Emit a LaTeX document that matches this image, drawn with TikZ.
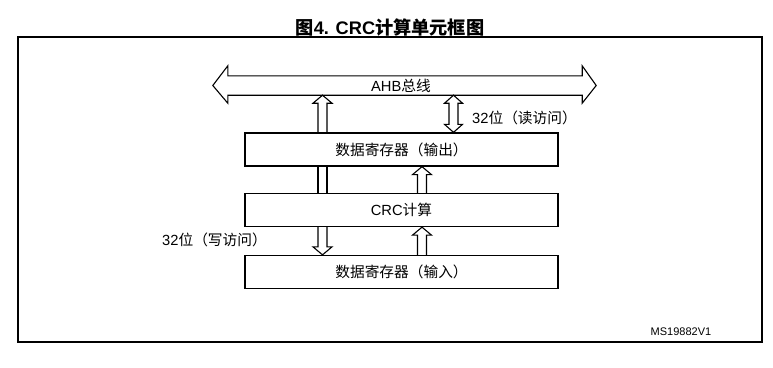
\documentclass[tikz,border=0pt]{standalone}
\usepackage{fontspec}
\setmainfont{Liberation Sans}
\newfontfamily\cjk{Noto Sans CJK SC}
\usetikzlibrary{calc}
\tikzset{
  arr/.style={line width=1.1pt, line join=miter},
  blk/.style={draw, line width=1.3pt, minimum width=313pt, minimum height=33pt, inner sep=0pt,
    font=\fontsize{14.7}{17}\selectfont},
  lbl/.style={font=\fontsize{14.7}{17}\selectfont, inner sep=0pt}
}
\newcommand\uparr[2]{%
  \draw[arr] let \p1=#1, \p2=#2 in
    (\x1-4.5pt,\y2) -- (\x1-4.5pt,\y1-8pt) -- (\x1-9.5pt,\y1-8pt) -- (\x1,\y1)
    -- (\x1+9.5pt,\y1-8pt) -- (\x1+4.5pt,\y1-8pt) -- (\x1+4.5pt,\y2);}
\newcommand\downarr[2]{%
  \draw[arr] let \p1=#1, \p2=#2 in
    (\x1-4.5pt,\y2) -- (\x1-4.5pt,\y1+8pt) -- (\x1-9.5pt,\y1+8pt) -- (\x1,\y1)
    -- (\x1+9.5pt,\y1+8pt) -- (\x1+4.5pt,\y1+8pt) -- (\x1+4.5pt,\y2);}
\newcommand\dblarr[2]{%
  \draw[arr] let \p1=#1, \p2=#2 in
    (\x1,\y1) -- (\x1+9pt,\y1-8pt) -- (\x1+4.5pt,\y1-8pt) -- (\x1+4.5pt,\y2+8pt)
    -- (\x1+9pt,\y2+8pt) -- (\x2,\y2) -- (\x1-9pt,\y2+8pt) -- (\x1-4.5pt,\y2+8pt)
    -- (\x1-4.5pt,\y1-8pt) -- (\x1-9pt,\y1-8pt) -- cycle;}
\begin{document}
\begin{tikzpicture}[x=1pt,y=-1pt]
\useasboundingbox (0,0) rectangle (773,367);
% title
\node[inner sep=0pt, font=\fontsize{18.2}{21}\selectfont\bfseries] (title) at (390,28)
  {{\cjk\bfseries 图}4. CRC{\cjk\bfseries 计算单元框图}};
% frame
\node[draw, line width=1.2pt, minimum width=744pt, minimum height=305pt, inner sep=0pt] (frame) at (390,189.5) {};
% bus
\node[lbl, minimum width=354pt, minimum height=19pt] (bus) at (405,85.5) {};
\node[lbl] (bustext) at (401,86) {AHB{\cjk 总线}};
\draw[arr] let \p1=(bus.north west), \p2=(bus.south east) in
  (\x1,\y1) -- (\x2,\y1) -- (\x2,\y1+10pt) -- (\x2+14pt,{(\y1+\y2)/2}) -- (\x2,\y2-8pt)
  -- (\x2,\y2) -- (\x1,\y2) -- (\x1,\y2-8pt) -- (\x1-15pt,{(\y1+\y2)/2}) -- (\x1,\y1+10pt) -- cycle;
% boxes
\node[blk] (out) at (401.5,149.5) {{\cjk 数据寄存器（输出）}};
\node[blk] (crc) at (401.5,210) {CRC{\cjk 计算}};
\node[blk] (in)  at (401.5,272) {{\cjk 数据寄存器（输入）}};
% column positions
\coordinate (xL) at (322.5,0);
\coordinate (xR) at (422,0);
\coordinate (xD) at (453.5,0);
% arrows
\uparr{(xL |- bus.south)}{(xL |- out.north)}
\dblarr{(xD |- bus.south)}{(xD |- out.north)}
\draw[arr] ($(xL |- out.south)+(-4.5,0)$) -- ($(xL |- crc.north)+(-4.5,0)$)
           ($(xL |- out.south)+(4.5,0)$) -- ($(xL |- crc.north)+(4.5,0)$);
\uparr{(xR |- out.south)}{(xR |- crc.north)}
\downarr{(xL |- in.north)}{(xL |- crc.south)}
\uparr{(xR |- crc.south)}{(xR |- in.north)}
% labels
\node[lbl, anchor=west] (rd) at (472,118) {32{\cjk 位（读访问）}};
\node[lbl, anchor=west] (wr) at (162,240) {32{\cjk 位（写访问）}};
\node[inner sep=0pt, font=\fontsize{11}{13}\selectfont] (ms) at (681,332) {MS19882V1};
\end{tikzpicture}
\end{document}
